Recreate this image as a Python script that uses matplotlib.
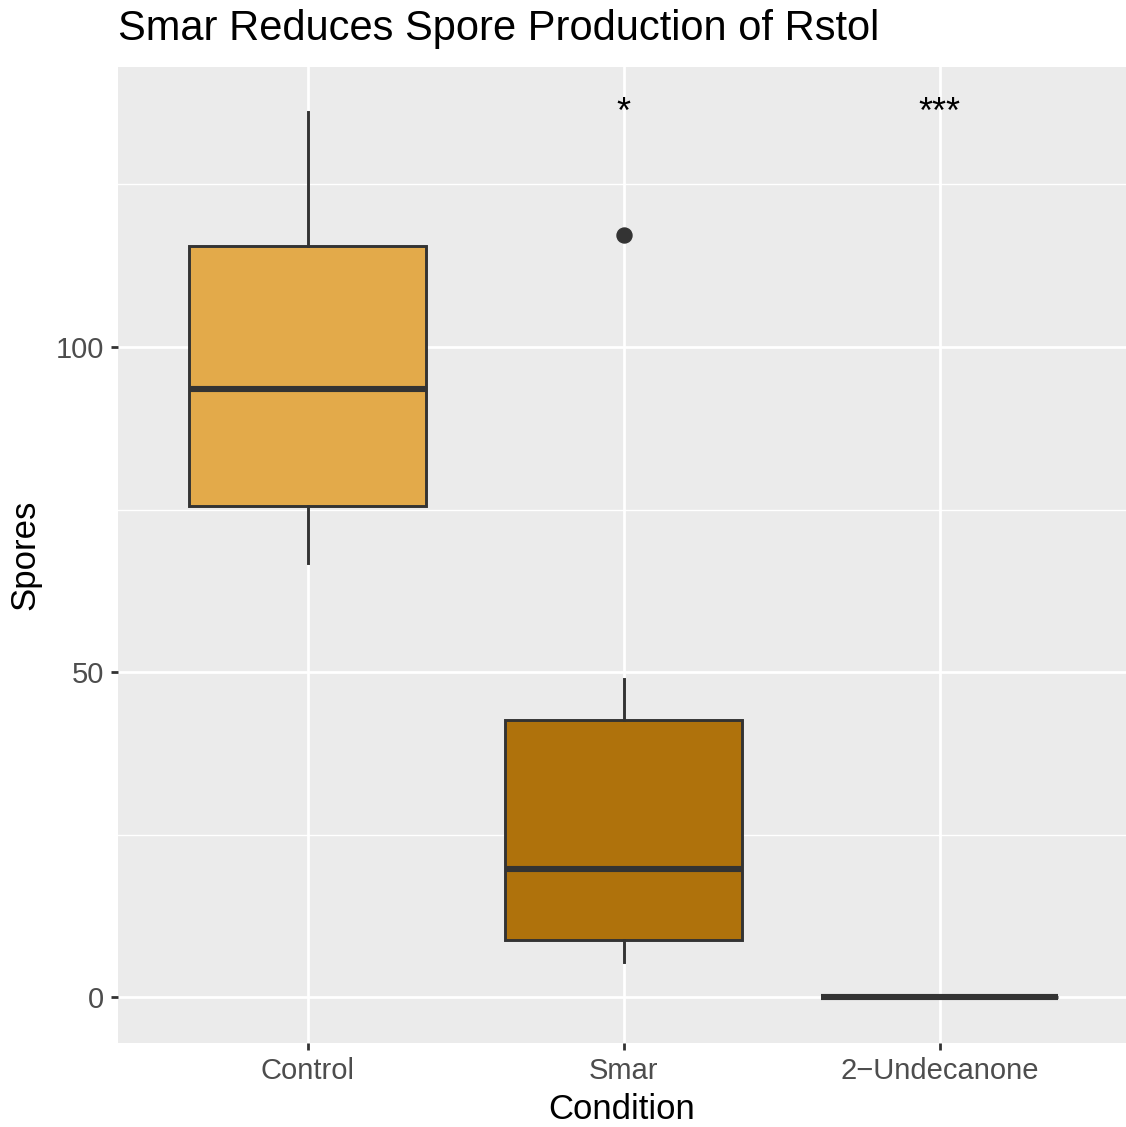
import numpy as np
import matplotlib.pyplot as plt

plt.rcParams['font.family'] = ['Liberation Sans', 'DejaVu Sans']

# values
conditions = ["Control", "Smar", "2\u2212Undecanone"]
whisker_low = [66.8, 5.5, 0.0]
q1 = [75.5, 8.9, 0.0]
medians = [93.5, 19.7, 0.0]
q3 = [115.5, 42.6, 0.0]
whisker_high = [136.2, 48.9, 0.0]
outliers = [[], [117.2], []]
fills = ["#E3AA4A", "#AF720C", "#8C5A08"]
sig_labels = ["", "*", "***"]
sig_y = 134.5

stats = []
for i, name in enumerate(conditions):
    stats.append({
        "label": name,
        "whislo": whisker_low[i],
        "q1": q1[i],
        "med": medians[i],
        "q3": q3[i],
        "whishi": whisker_high[i],
        "fliers": outliers[i],
    })

fig = plt.figure(figsize=(11.26, 11.27), dpi=100)
ax = fig.add_axes([118 / 1126, 1 - 1042.7 / 1127, 1 - 118 / 1126, (1042.7 - 66.7) / 1127])
ax.set_facecolor("#EBEBEB")

# grid like ggplot theme_grey
for v in [25, 75, 125]:
    ax.axhline(v, color="white", lw=1.0, zorder=0)
for v in [0, 50, 100]:
    ax.axhline(v, color="white", lw=2.0, zorder=0)
for x in range(1, 4):
    ax.axvline(x, color="white", lw=2.0, zorder=0)

pos = np.arange(1, len(conditions) + 1)
bp = ax.bxp(stats, positions=pos, widths=0.75, patch_artist=True, showcaps=False,
            boxprops=dict(edgecolor="#333333", linewidth=2.1),
            whiskerprops=dict(color="#333333", linewidth=2.1),
            medianprops=dict(color="#333333", linewidth=4.4, solid_capstyle="butt"),
            flierprops=dict(marker="o", markersize=10.8, markerfacecolor="#333333",
                            markeredgecolor="#333333"),
            zorder=2)
for patch, c in zip(bp["boxes"], fills):
    patch.set_facecolor(c)

for x, lab in zip(pos, sig_labels):
    if lab:
        ax.text(x, sig_y, lab, ha="center", va="baseline", fontsize=26, color="black")

ax.set_xlim(0.4, 3.59)
ax.set_ylim(-6.95, 143.1)
ax.set_yticks([0, 50, 100])
ax.set_xticks(pos)
ax.set_xticklabels(conditions)
for s in ax.spines.values():
    s.set_visible(False)
ax.tick_params(axis="both", length=5.2, width=2.0, color="#333333",
               labelcolor="#4D4D4D", labelsize=21, pad=5)

ax.set_xlabel("Condition", fontsize=25, labelpad=6)
ax.set_ylabel("Spores", fontsize=25, labelpad=10)

fig.text(118 / 1126, 1 - 40 / 1127, "Smar Reduces Spore Production of Rstol",
         fontsize=30, ha="left", va="baseline")

fig.savefig("out.png", dpi=100)
plt.close(fig)
